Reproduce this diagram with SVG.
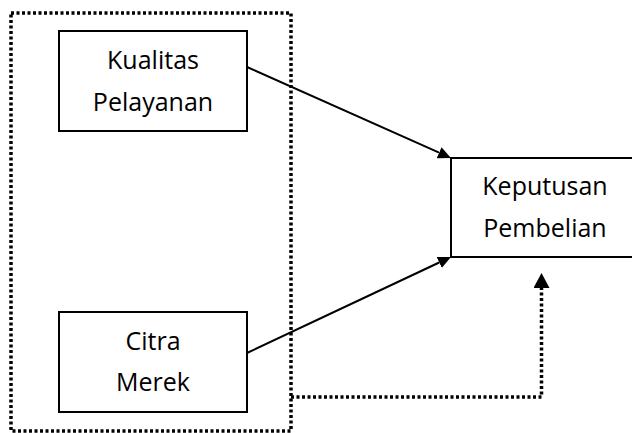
<svg xmlns="http://www.w3.org/2000/svg" width="632" height="433" viewBox="0 0 632 433">
  <style>
    .box { fill: #fff; stroke: #000; stroke-width: 2; }
    .group { fill: none; stroke: #000; stroke-width: 3.5; stroke-dasharray: 3 2.5; }
    .label { font-family: "Open Sans", "Liberation Sans", sans-serif; font-size: 25px; fill: #000; text-anchor: middle; }
    .solid { fill: none; stroke: #000; stroke-width: 2; }
    .dotted { fill: none; stroke: #000; stroke-width: 3.5; stroke-dasharray: 3 2.5; }
  </style>
  <defs>
    <marker id="ah" markerUnits="userSpaceOnUse" markerWidth="13" markerHeight="12" refX="0" refY="6" orient="auto" viewBox="0 0 13 12">
      <path d="M0,0 L13,6 L0,12 z" fill="#000"/>
    </marker>
    <marker id="ahd" markerUnits="userSpaceOnUse" markerWidth="15" markerHeight="16" refX="0" refY="8" orient="auto" viewBox="0 0 15 16">
      <path d="M0,0 L15,8 L0,16 z" fill="#000"/>
    </marker>
  </defs>
  <rect id="group-box" class="group" x="11" y="13" width="280" height="418"/>
  <g id="node-kualitas">
    <rect class="box" x="59" y="31" width="188" height="100"/>
    <text class="label" x="153" y="69">Kualitas</text>
    <text class="label" x="153" y="111">Pelayanan</text>
  </g>
  <g id="node-citra">
    <rect class="box" x="59" y="312" width="188" height="100"/>
    <text class="label" x="153" y="350">Citra</text>
    <text class="label" x="153" y="391">Merek</text>
  </g>
  <g id="node-keputusan">
    <rect class="box" x="451" y="158" width="200" height="99"/>
    <text class="label" x="545" y="195">Keputusan</text>
    <text class="label" x="545" y="237">Pembelian</text>
  </g>
  <g id="connectors">
    <line class="solid" x1="247" y1="67" x2="439.1" y2="152.7" marker-end="url(#ah)"/>
    <line class="solid" x1="247" y1="353" x2="439.2" y2="262.5" marker-end="url(#ah)"/>
    <path class="dotted" d="M291,397 H541.5 V288" marker-end="url(#ahd)"/>
  </g>
</svg>
